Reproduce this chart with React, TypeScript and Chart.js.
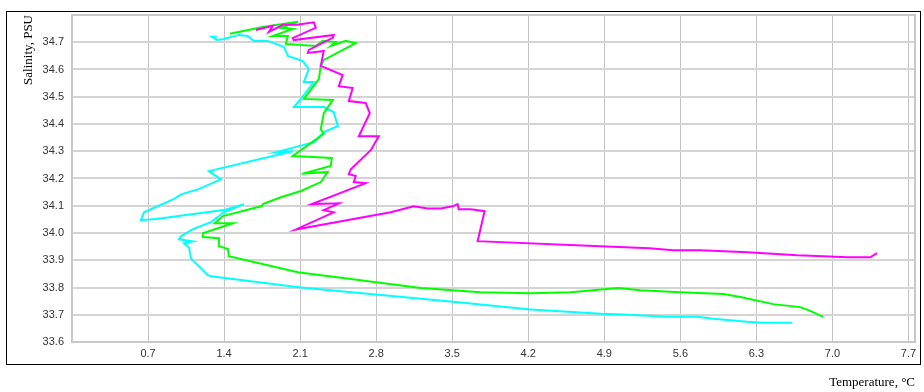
import React, { useEffect, useRef } from "react";
import { Chart, registerables } from "chart.js";

Chart.register(...registerables);

// Temperature (°C) / Salinity (PSU) profiles
const magentaT = [1.693, 1.849, 1.812, 1.941, 2.070, 2.226, 2.244, 2.033, 2.042, 2.410, 2.400, 2.180, 2.171, 2.317, 2.290, 2.492, 2.456, 2.584, 2.548, 2.704, 2.741, 2.640, 2.824, 2.750, 2.566, 2.548, 2.612, 2.594, 2.704, 2.207, 2.456, 2.317, 2.409, 2.060, 2.934, 3.145, 3.274, 3.394, 3.504, 3.550, 3.559, 3.670, 3.798, 3.734, 4.865, 5.316, 5.536, 5.784, 6.217, 6.677, 6.916, 7.136, 7.347, 7.412];
const magentaS = [34.745, 34.760, 34.738, 34.764, 34.764, 34.773, 34.753, 34.716, 34.708, 34.727, 34.716, 34.672, 34.661, 34.668, 34.613, 34.580, 34.539, 34.532, 34.484, 34.477, 34.440, 34.355, 34.355, 34.304, 34.234, 34.216, 34.209, 34.187, 34.183, 34.106, 34.109, 34.084, 34.076, 34.013, 34.076, 34.098, 34.090, 34.090, 34.098, 34.106, 34.087, 34.087, 34.080, 33.970, 33.951, 33.944, 33.937, 33.937, 33.929, 33.918, 33.915, 33.911, 33.911, 33.926];

const greenT = [1.454, 1.757, 2.079, 1.922, 2.033, 1.849, 1.987, 1.969, 2.244, 2.308, 2.428, 2.382, 2.520, 2.612, 2.318, 2.290, 2.272, 2.134, 2.401, 2.318, 2.290, 2.318, 2.033, 2.392, 2.382, 2.116, 2.355, 2.290, 2.107, 1.922, 1.757, 1.748, 1.389, 1.315, 1.481, 1.205, 1.205, 1.352, 1.352, 1.435, 1.444, 2.079, 2.566, 3.210, 3.761, 4.221, 4.589, 5.030, 5.232, 5.600, 5.996, 6.152, 6.455, 6.703, 6.795, 6.915];
const greenS = [34.731, 34.756, 34.775, 34.753, 34.749, 34.723, 34.723, 34.694, 34.686, 34.705, 34.701, 34.686, 34.705, 34.697, 34.635, 34.613, 34.565, 34.492, 34.488, 34.440, 34.381, 34.364, 34.283, 34.275, 34.246, 34.217, 34.224, 34.187, 34.154, 34.131, 34.106, 34.099, 34.062, 34.036, 34.036, 33.999, 33.985, 33.981, 33.952, 33.941, 33.915, 33.856, 33.831, 33.798, 33.783, 33.779, 33.783, 33.798, 33.790, 33.783, 33.776, 33.765, 33.739, 33.728, 33.714, 33.692];

const cyanT = [1.334, 1.288, 1.334, 1.398, 1.536, 1.619, 1.674, 1.803, 1.950, 1.987, 2.125, 2.180, 2.134, 2.226, 2.107, 2.042, 2.318, 2.410, 2.447, 2.317, 2.226, 2.079, 1.876, 2.033, 1.260, 1.371, 1.160, 1.003, 0.930, 0.663, 0.635, 0.773, 1.398, 1.582, 1.398, 1.279, 1.113, 1.003, 0.985, 1.113, 1.031, 1.077, 1.095, 1.251, 1.279, 2.107, 3.485, 4.221, 4.865, 5.076, 5.480, 5.756, 5.903, 6.216, 6.363, 6.630];
const cyanS = [34.720, 34.720, 34.708, 34.712, 34.727, 34.723, 34.705, 34.705, 34.683, 34.650, 34.631, 34.602, 34.554, 34.554, 34.492, 34.462, 34.462, 34.443, 34.392, 34.370, 34.333, 34.318, 34.296, 34.300, 34.227, 34.197, 34.160, 34.142, 34.123, 34.076, 34.047, 34.051, 34.084, 34.106, 34.076, 34.040, 34.014, 33.988, 33.977, 33.969, 33.962, 33.947, 33.907, 33.845, 33.841, 33.800, 33.749, 33.719, 33.704, 33.701, 33.693, 33.693, 33.685, 33.674, 33.671, 33.671];

const xTicks = [0.7, 1.4, 2.1, 2.8, 3.5, 4.2, 4.9, 5.6, 6.3, 7.0, 7.7];
const yTicks = [33.6, 33.7, 33.8, 33.9, 34.0, 34.1, 34.2, 34.3, 34.4, 34.5, 34.6, 34.7];
const xMin = 0;
const xMax = 7.76;
const yMin = 33.6;
const yMax = 34.8;

const xTitle = "Temperature, °C";
const yTitle = "Salinity, PSU";

const toPoints = (t: number[], s: number[]) => t.map((v, i) => ({ x: v, y: s[i] }));

const framePlugin = {
  id: "frames",
  beforeDatasetsDraw(chart: any) {
    const { ctx, chartArea } = chart;
    ctx.save();
    ctx.strokeStyle = "#c8c8c8";
    ctx.lineWidth = 2;
    ctx.strokeRect(chartArea.left, chartArea.top, chartArea.right - chartArea.left, chartArea.bottom - chartArea.top);
    ctx.restore();
  },
  afterDraw(chart: any) {
    const { ctx, chartArea } = chart;
    ctx.save();
    ctx.strokeStyle = "#000";
    ctx.lineWidth = 1;
    const l = Math.round(chartArea.left - 66) + 0.5;
    const t = Math.round(chartArea.top - 4) + 0.5;
    const r = Math.round(chartArea.right + 5) + 0.5;
    const b = Math.round(chartArea.bottom + 22) + 0.5;
    ctx.strokeRect(l, t, r - l, b - t);
    ctx.restore();
  },
};

export default function App() {
  const ref = useRef<HTMLCanvasElement | null>(null);
  useEffect(() => {
    if (!ref.current) return;
    const mk = (label: string, t: number[], s: number[], color: string) => ({
      label,
      data: toPoints(t, s),
      showLine: true,
      borderColor: color,
      backgroundColor: color,
      borderWidth: 2,
      pointRadius: 0,
      tension: 0,
    });
    const chart = new Chart(ref.current, {
      type: "scatter",
      data: {
        datasets: [
          mk("Profile 1", magentaT, magentaS, "#ff00ff"),
          mk("Profile 2", greenT, greenS, "#00ff00"),
          mk("Profile 3", cyanT, cyanS, "#00ffff"),
        ],
      },
      options: {
        responsive: false,
        animation: false,
        layout: { padding: { top: 15, right: 9, left: 0, bottom: 0 } },
        plugins: { legend: { display: false }, tooltip: { enabled: false } },
        scales: {
          x: {
            type: "linear",
            min: xMin,
            max: xMax,
            afterBuildTicks: (scale: any) => {
              scale.ticks = xTicks.map((v) => ({ value: v }));
            },
            afterFit: (scale: any) => {
              scale.height = 50;
            },
            grid: { color: "#c4c4c4", lineWidth: 1, drawTicks: false },
            border: { display: false },
            ticks: {
              autoSkip: false,
              maxRotation: 0,
              padding: 5,
              color: "#333",
              font: { family: "'Liberation Sans', Arial, sans-serif", size: 11 },
              callback: (v: any) => Number(v).toFixed(1),
            },
            title: {
              display: true,
              text: xTitle,
              align: "end",
              color: "#000",
              padding: { top: 0, bottom: 2 },
              font: { family: "'Liberation Serif', 'Times New Roman', serif", size: 13 },
            },
          },
          y: {
            type: "linear",
            min: yMin,
            max: yMax,
            afterBuildTicks: (scale: any) => {
              scale.ticks = yTicks.map((v) => ({ value: v }));
            },
            afterFit: (scale: any) => {
              scale.width = 72;
            },
            grid: { color: "#d4d4d4", lineWidth: 2, drawTicks: false },
            border: { display: false },
            ticks: {
              autoSkip: false,
              padding: 8,
              color: "#333",
              font: { family: "'Liberation Sans', Arial, sans-serif", size: 11 },
              callback: (v: any) => Number(v).toFixed(1),
            },
            title: {
              display: true,
              text: yTitle,
              align: "end",
              color: "#000",
              padding: { top: 21, bottom: 0 },
              font: { family: "'Liberation Serif', 'Times New Roman', serif", size: 13 },
            },
          },
        },
      },
      plugins: [framePlugin],
    });
    return () => chart.destroy();
  }, []);
  return (
    <div style={{ position: "absolute", left: 0, top: 0, width: 924, height: 392, background: "#fff" }}>
      <canvas ref={ref} width={924} height={392} style={{ display: "block" }} />
    </div>
  );
}
